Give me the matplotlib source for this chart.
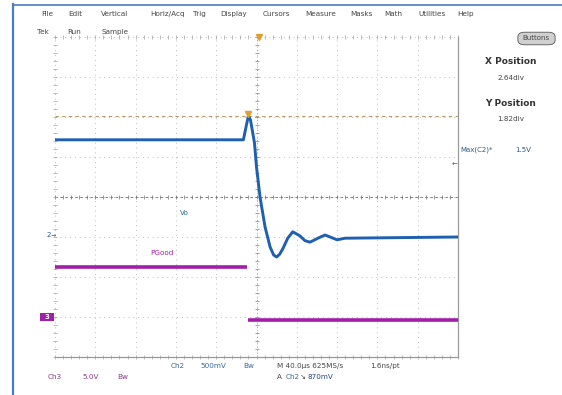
import matplotlib
matplotlib.use("Agg")
import matplotlib.pyplot as plt
from matplotlib.patches import FancyBboxPatch, Rectangle
from matplotlib.lines import Line2D
import numpy as np

# Scope settings
time_per_div = 40.0      # us/div
ch2_volts_per_div = 0.5  # V/div
ch3_volts_per_div = 5.0  # V/div
ch2_offset_div = -0.95   # ground marker positions (divisions from centre)
ch3_offset_div = -3.0
trig_level_div = 2.02

# Vo (Ch2) trace, time in us, volts
vo_t = [-200, -13, -10, -8, -6, -2, 0, 3.5, 8.5, 13.5, 17, 20, 23, 26, 31, 36,
        43, 48, 53, 61, 68, 73, 80, 88, 200]
vo_v = [1.19, 1.19, 1.375, 1.49, 1.44, 1.15, 0.85, 0.475, 0.10, -0.15, -0.25, -0.275,
        -0.24, -0.175, -0.04, 0.04, -0.01, -0.07, -0.09, -0.04, 0.0, -0.025, -0.06,
        -0.04, -0.025]

# PGood (Ch3) trace: high before the edge, low after (edge too fast to show)
pg_t = [-200, -9.6, np.nan, -8.6, 200]
pg_v = [6.25, 6.25, np.nan, -0.35, -0.35]

menu_items = ["File", "Edit", "Vertical", "Horiz/Acq", "Trig", "Display", "Cursors",
              "Measure", "Masks", "Math", "Utilities", "Help"]
menu_x = [41, 68, 101, 150, 193, 220, 263, 305, 350, 384, 418, 457]

W, H = 562, 395
fig = plt.figure(figsize=(W / 100, H / 100), dpi=100)
fig.patch.set_facecolor("white")

def ftext(x, y, s, **kw):
    kw.setdefault("fontsize", 5.2)
    kw.setdefault("color", "#444444")
    kw.setdefault("va", "center")
    fig.text(x / W, 1 - y / H, s, **kw)

# blue window frame
fig.add_artist(Line2D([13 / W, 13 / W], [0, 1 - 4 / H], color="#4a7cc4", lw=1.6))
fig.add_artist(Line2D([13 / W, 1], [1 - 4.5 / H, 1 - 4.5 / H], color="#4a7cc4", lw=1.2))

# menu bar
for name, x in zip(menu_items, menu_x):
    ftext(x, 14, name)
for name, x in zip(["Tek", "Run", "Sample"], [37, 67, 102]):
    ftext(x, 32, name)

# Buttons
btn = FancyBboxPatch((519 / W, 1 - 44 / H), 35 / W, 11 / H,
                     boxstyle="round,pad=0.002,rounding_size=0.012",
                     transform=fig.transFigure, fc="#d0d0d0", ec="#555555", lw=0.6)
fig.add_artist(btn)
ftext(536, 38, "Buttons", ha="center", fontsize=5)

# right panel
ftext(511, 61, "X Position", ha="center", fontsize=6.5, fontweight="bold", color="#333333")
ftext(511, 78, "2.64div", ha="center", fontsize=5.2)
ftext(511, 103, "Y Position", ha="center", fontsize=6.5, fontweight="bold", color="#333333")
ftext(511, 119, "1.82div", ha="center", fontsize=5.2)
ftext(460, 150, "Max(C2)*", fontsize=5, color="#2a5a8a")
ftext(515, 150, "1.5V", fontsize=5, color="#2a5a8a")

# graticule axes
ax = fig.add_axes([55 / W, 38 / H, 403 / W, 320 / H])
ax.set_xlim(-5, 5)
ax.set_ylim(-4, 4)
ax.set_facecolor("white")
ax.set_xticks([])
ax.set_yticks([])
for side in ["top", "left"]:
    ax.spines[side].set_visible(False)
for side in ["right", "bottom"]:
    ax.spines[side].set_color("#9a9a9a")
    ax.spines[side].set_linewidth(0.9)

grid_col = "#bdbdbd"
for gx in range(-5, 5):
    ax.axvline(gx, color=grid_col, lw=0.7, ls=(0, (1, 4)), zorder=1)
for gy in range(-3, 5):
    ax.axhline(gy, color=grid_col, lw=0.7, ls=(0, (1, 4)), zorder=1)
ax.axhline(0, color="#707070", lw=0.6, ls=(0, (3, 3)), zorder=1)
ax.axvline(0, color="#909090", lw=0.6, ls=(0, (1, 3)), zorder=1)
minor = np.arange(-5, 5.01, 0.2)
ax.plot(minor, np.zeros_like(minor), "|", color="#707070", ms=3, mew=0.5, zorder=1)
ax.plot(minor, np.full_like(minor, 4), "|", color="#a0a0a0", ms=3, mew=0.5, zorder=1, clip_on=False)
ax.plot(minor, np.full_like(minor, -4), "|", color="#a0a0a0", ms=3, mew=0.5, zorder=1, clip_on=False)
minor_y = np.arange(-4, 4.01, 0.2)
ax.plot(np.zeros_like(minor_y), minor_y, "_", color="#808080", ms=3, mew=0.5, zorder=1)
ax.plot(np.full_like(minor_y, -5), minor_y, "_", color="#a0a0a0", ms=3, mew=0.5, zorder=1, clip_on=False)

# trigger level line
ax.axhline(trig_level_div, color="#b49a6a", lw=0.8, ls=(0, (3, 3)), zorder=2)

# traces
vo_x = np.array(vo_t) / time_per_div
vo_y = np.array(vo_v) / ch2_volts_per_div + ch2_offset_div
pg_x = np.array(pg_t) / time_per_div
pg_y = np.array(pg_v) / ch3_volts_per_div + ch3_offset_div
ax.plot(pg_x, pg_y, color="#a01ea8", lw=2.6, solid_capstyle="butt", zorder=3)
ax.plot(vo_x, vo_y, color="#1f5fb0", lw=2.1, solid_joinstyle="round", zorder=4)

# trigger markers
ax.plot([-8.4 / time_per_div], [trig_level_div + 0.05], marker="v", color="#e0a030",
        ms=5, zorder=5)
ax.plot([0.05], [4.0], marker="v", color="#e0a030", ms=5, zorder=5, clip_on=False)

# trace labels
ax.text(-1.8, -0.4, "Vo", fontsize=5.2, color="#2a6a8a", ha="center", va="center")
ax.text(-2.35, -1.4, "PGood", fontsize=5.2, color="#a01ea8", ha="center", va="center")

# channel markers
ftext(47, 235, "2", fontsize=5, color="#2a5a8a")
ftext(51, 235, "\u2192", fontsize=4.5, color="#2a5a8a")
fig.add_artist(Rectangle((40 / W, 1 - 321 / H), 14 / W, 8 / H, transform=fig.transFigure,
                         fc="#a01ea8", ec="none"))
ftext(47, 317, "3", fontsize=5, color="white", ha="center", fontweight="bold")
ftext(455, 165, "\u2190", fontsize=5, color="#1f5fb0", ha="center")

# bottom readout
ch2_col = "#3a6a9a"
ch3_col = "#8a3a8a"
ftext(171, 366, "Ch2", color=ch2_col)
ftext(200, 366, "500mV", color=ch2_col)
ftext(243, 366, "Bw", color=ch2_col)
ftext(277, 366, "M 40.0\u00b5s 625MS/s")
ftext(370, 366, "1.6ns/pt")
ftext(48, 377, "Ch3", color=ch3_col)
ftext(82, 377, "5.0V", color=ch3_col)
ftext(117, 377, "Bw", color=ch3_col)
ftext(277, 377, "A", color="#444444")
ftext(286, 377, "Ch2", color=ch2_col)
ftext(300, 377, "\u2198", color="#444444")
ftext(307, 377, "870mV", color="#2a4a7a")

fig.savefig("out.png", dpi=100, facecolor="white")
